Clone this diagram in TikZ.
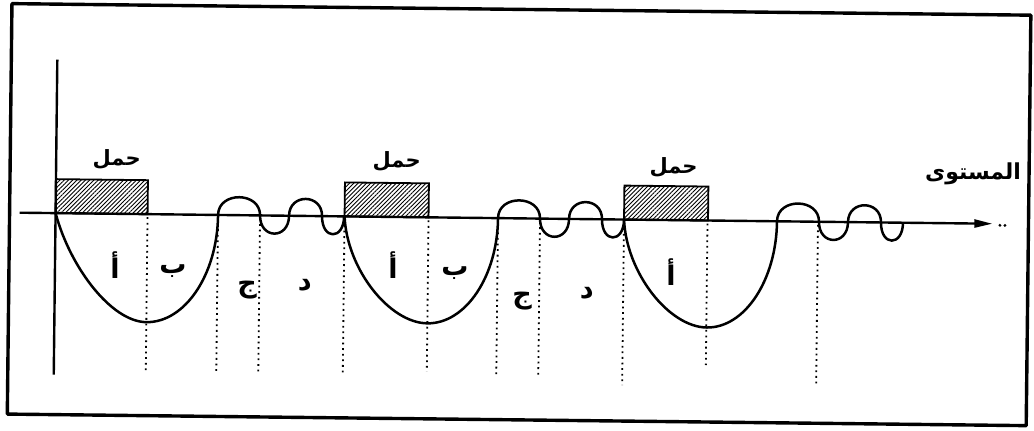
\documentclass[tikz,border=0pt]{standalone}
\usepackage{fontspec}
\usepackage{tikz}
\usetikzlibrary{arrows.meta, patterns.meta}
\TeXXeTstate=1
\newfontfamily\arabicfont[Script=Arabic]{DejaVu Sans}
\tikzset{
    outline/.style={line width=1.7pt, line join=round},
    axisline/.style={line width=1.2pt},
    curveline/.style={line width=1.25pt, line join=round},
    loadbox/.style={draw, line width=0.9pt, pattern={Lines[angle=45, distance=1.5pt, line width=0.45pt]}},
    guideline/.style={line width=0.9pt, dash pattern=on 0.9pt off 1.9pt},
    arlabel/.style={font=\arabicfont\bfseries\fontsize{10.5}{13}\selectfont, inner sep=0pt},
    partlabel/.style={font=\arabicfont\bfseries\fontsize{13.5}{16}\selectfont, inner sep=0pt},
    dotmark/.style={circle, fill, inner sep=0pt, minimum size=1.6pt}
}

\begin{document}
\begin{tikzpicture}[x=0.5pt, y=-0.5pt]
    \useasboundingbox (0,0) rectangle (1034,431);
    \begin{scope}[rotate=-0.65]
        \draw[outline] (12,3.5) rectangle (1031,414);
        % axes
        \coordinate (ytop) at (58,59);
        \coordinate (ybot) at (58,374);
        \coordinate (xleft) at (22,212.5);
        \coordinate (xright) at (995,212.5);
        \draw[axisline] (ytop) -- (ybot);
        \draw[axisline, -{Triangle[length=9pt, width=4pt]}] (xleft) -- (xright);
        \node[dotmark] (dotA) at (1002.5,214) {};
        \node[dotmark] (dotB) at (1007.5,214) {};
        \node[arlabel, font=\arabicfont\bfseries\fontsize{11}{13}\selectfont] (level) at (975,162.5) {\beginR المستوى\endR};
        % one load and one stretch of the curve for each period
        \foreach \s/\w/\u/\d/\a/\b [count=\i] in {58/92/162.5/108/15/0.62, 347/84/153.5/106/3/0.55, 626.5/84/153/107/3/0.55} {
            \begin{scope}[shift={(\s,212.5)}]
                \draw[loadbox] (0,0) rectangle (\w,-34);
                \draw[curveline] (0,0) .. controls (\a,{0.5*\d}) and ({\b*\w},\d) .. (\w,\d)
                    .. controls ({\w+0.55*(\u-\w)},\d) and (\u,{0.55*\d}) .. (\u,0)
                    .. controls (\u,-24) and ({\u+42},-24) .. ({\u+42},0)
                    .. controls ({\u+42},24) and ({\u+71},24) .. ({\u+71},0)
                    .. controls ({\u+71},-22.7) and ({\u+104},-22.7) .. ({\u+104},0)
                    .. controls ({\u+104},24) and ({\u+126},24) .. ({\u+126},0);
            \end{scope}
        }
        % dotted dividers
        \foreach \x/\e in {150/370, 220.5/370, 262.5/369.7, 347/369.4, 431/366.8, 500.5/369.3, 542.5/370.8, 626.5/378, 710/357, 820.5/377.7}
            \draw[guideline] (\x,215.5) -- (\x,\e);
        % labels
        \foreach \x/\y [count=\i] in {118.5/158.5, 398.5/156.5, 675.5/160}
            \node[arlabel] (load\i) at (\x,\y) {\beginR حمل\endR};
        \foreach \x/\y/\t [count=\i] in {118/263.5/أ, 176/269/ب, 250.5/287.5/ج, 308/281.5/د, 396/260.5/أ, 458/268/ب, 525.5/295/ج, 590/286.5/د, 674/264.5/أ}
            \node[partlabel] (part\i) at (\x,\y) {\beginR\t\endR};
    \end{scope}
\end{tikzpicture}
\end{document}
